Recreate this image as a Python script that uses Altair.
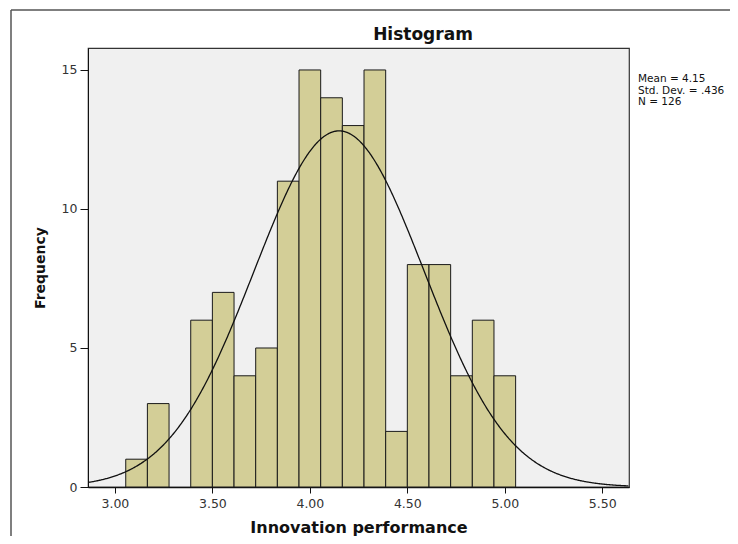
import altair as alt
import pandas as pd

# ---- data ----
bin_starts = [3.0556, 3.1667, 3.2778, 3.3889, 3.5000, 3.6111, 3.7222, 3.8333, 3.9444,
              4.0556, 4.1667, 4.2778, 4.3889, 4.5000, 4.6111, 4.7222, 4.8333, 4.9444]
bin_width = 0.1111
counts = [1, 3, 0, 6, 7, 4, 5, 11, 15, 14, 13, 15, 2, 8, 8, 4, 6, 4]
mean_val = 4.15
sd_val = 0.436
n_val = 126
x_ticks = [3.0, 3.5, 4.0, 4.5, 5.0, 5.5]
y_ticks = [0, 5, 10, 15]
x_domain = [2.862, 5.637]
y_domain = [0, 15.79]
stats_lines = ["Mean = 4.15", "Std. Dev. = .436", "N = 126"]
title_text = "Histogram"
x_title = "Innovation performance"
y_title = "Frequency"

df = pd.DataFrame({
    "start": bin_starts,
    "end": [s + bin_width for s in bin_starts],
    "count": counts,
})

FONT = "DejaVu Sans"
W, H = 541, 439

xs = alt.Scale(domain=x_domain, nice=False, zero=False)
ys = alt.Scale(domain=y_domain, nice=False, zero=False)

x_axis = alt.Axis(values=x_ticks, format=".2f", grid=False, tickSize=6, labelPadding=4,
                  labelFont=FONT, labelFontSize=12.5, labelColor="#333",
                  titleFont=FONT, titleFontSize=16, titleFontWeight="bold",
                  titleColor="#111", titleY=45, titleBaseline="alphabetic",
                  domainColor="#111", domainWidth=1.5, tickColor="#111")
y_axis = alt.Axis(values=y_ticks, grid=False, tickSize=8, labelPadding=3,
                  labelFont=FONT, labelFontSize=12.5, labelColor="#333",
                  titleFont=FONT, titleFontSize=14, titleFontWeight="bold",
                  titleColor="#111", titleX=-44, titleY=H / 2,
                  titleAngle=-90, titleAlign="center", titleBaseline="alphabetic",
                  domainColor="#111", tickColor="#111")

bars = alt.Chart(df).transform_filter("datum.count > 0").mark_bar(
    fill="#D3CE97", stroke="#1a1a1a", strokeWidth=1, opacity=1
).encode(
    x=alt.X("start:Q", scale=xs, axis=x_axis, title=x_title),
    x2="end:Q",
    y=alt.Y("count:Q", scale=ys, axis=y_axis, title=y_title),
    y2=alt.datum(0),
)

curve = alt.Chart(alt.sequence(x_domain[0], x_domain[1] + 0.001, 0.004, as_="x")).transform_calculate(
    y=f"{n_val} * {bin_width} * densityNormal(datum.x, {mean_val}, {sd_val})"
).mark_line(color="#111", strokeWidth=1.3).encode(
    x=alt.X("x:Q", scale=xs, axis=x_axis, title=x_title),
    y=alt.Y("y:Q", scale=ys, axis=y_axis, title=y_title),
)

title = alt.Chart().mark_text(
    font=FONT, fontSize=17, fontWeight="bold", color="#111",
    align="center", baseline="alphabetic"
).encode(x=alt.value(335), y=alt.value(-8), text=alt.value(title_text))

stats = alt.Chart().mark_text(
    font=FONT, fontSize=10.5, color="#111", align="left",
    baseline="alphabetic", lineHeight=11.5
).encode(x=alt.value(550), y=alt.value(34), text=alt.value(stats_lines))

frame_top = alt.Chart().mark_rule(color="#555", strokeWidth=1.5).encode(
    x=alt.value(-77), x2=alt.value(700), y=alt.value(-38))
frame_left = alt.Chart().mark_rule(color="#555", strokeWidth=1.5).encode(
    x=alt.value(-77), y=alt.value(-38), y2=alt.value(520))

chart = alt.layer(frame_top, frame_left, bars, curve, title, stats).properties(
    width=W, height=H,
    padding={"left": 80, "top": 40, "right": 101, "bottom": 49},
    autosize=alt.AutoSizeParams(type="none"),
).configure_view(
    fill="#F0F0F0", stroke="#333", strokeWidth=1.2
)

chart.save("out.html", embed_options={"renderer": "svg", "actions": False})
